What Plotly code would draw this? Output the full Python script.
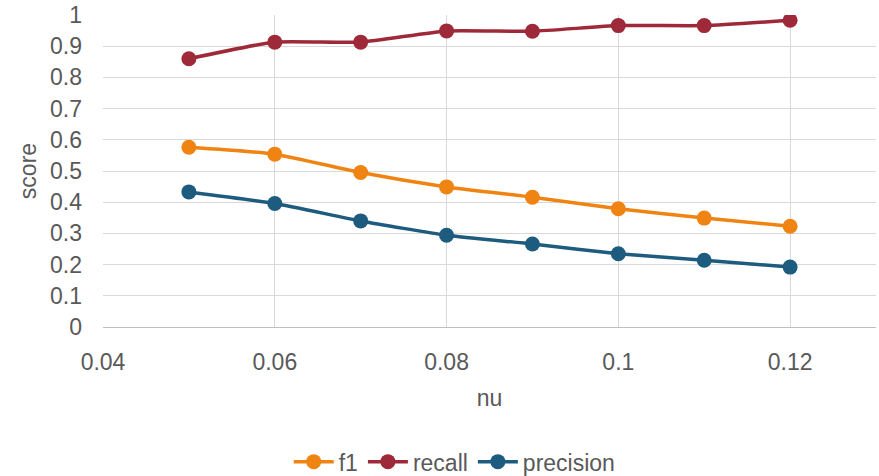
import plotly.graph_objects as go

nu = [0.05, 0.06, 0.07, 0.08, 0.09, 0.10, 0.11, 0.12]
f1 = [0.576, 0.554, 0.495, 0.449, 0.416, 0.379, 0.349, 0.323]
recall = [0.860, 0.913, 0.913, 0.949, 0.948, 0.966, 0.966, 0.983]
precision = [0.433, 0.396, 0.340, 0.294, 0.266, 0.235, 0.214, 0.192]

x_ticks = [0.04, 0.06, 0.08, 0.1, 0.12]
y_ticks = [0, 0.1, 0.2, 0.3, 0.4, 0.5, 0.6, 0.7, 0.8, 0.9, 1]

series = [("f1", f1, "#F08412"), ("recall", recall, "#9E2A39"), ("precision", precision, "#1D5B7F")]

fig = go.Figure()
for name, vals, col in series:
    fig.add_trace(go.Scatter(
        x=nu, y=vals, name=name, mode="lines+markers",
        line=dict(color=col, width=3.5, shape="spline", smoothing=0.5),
        marker=dict(color=col, size=15),
    ))

font = dict(family="Liberation Sans, Arial, sans-serif", color="#595959", size=23)
fig.update_layout(
    width=879, height=476,
    margin=dict(l=103, r=3, t=15, b=149, autoexpand=False),
    paper_bgcolor="white", plot_bgcolor="white",
    font=font,
    showlegend=True,
    legend=dict(orientation="h", x=0.455, xanchor="center",
                yref="container", y=0.03, yanchor="middle",
                font=font, itemwidth=40, tracegroupgap=0),
    xaxis=dict(range=[0.04, 0.13], tickvals=x_ticks, ticktext=["0.04", "0.06", "0.08", "0.1", "0.12"],
               showgrid=True, gridcolor="#D9D9D9", gridwidth=1.3, zeroline=False,
               showline=True, linecolor="#BFBFBF", linewidth=1.3, automargin=False,
               ticks="", ticklabelstandoff=14,
               title=dict(text="nu", font=font, standoff=16)),
    yaxis=dict(range=[0, 1.0], tickvals=y_ticks, ticktext=[f"{v:g}" for v in y_ticks],
               showgrid=True, gridcolor="#D9D9D9", gridwidth=1.3, zeroline=False,
               showline=False, ticks="", ticklabelstandoff=20, automargin=False,
               title=dict(text="score", font=font, standoff=6)),
)
fig.write_html("out.html")
